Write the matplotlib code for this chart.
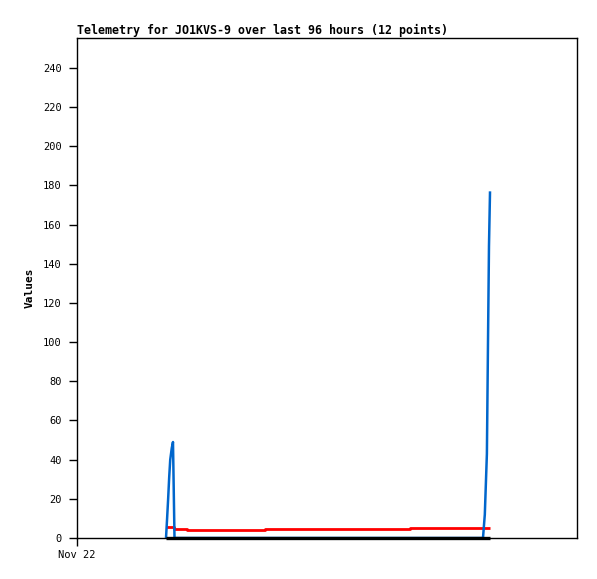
import matplotlib
matplotlib.use("Agg")
import matplotlib.pyplot as plt

# hours since Nov 22 00:00, over a 96 hour window
blue_hours = [17.09, 17.3, 17.5, 17.7, 17.9, 18.2, 18.43, 18.72, 77.95, 78.3, 78.7, 78.9, 79.1, 79.3]
blue_vals = [0, 10, 20, 31, 40, 46, 49, 0, 0, 12, 43, 97, 149, 177]

red_hours = [17.09, 18.6, 21.1, 36.1, 63.9, 79.3]
red_vals = [5.8, 4.8, 3.9, 4.4, 5.0, 5.0]

black_hours = [17.09, 79.3]
black_vals = [0, 0]

y_ticks = list(range(0, 241, 20))
x_tick_labels = ["Nov 22"]


def main():
    plt.rcParams["font.family"] = "DejaVu Sans Mono"
    fig = plt.figure(figsize=(5.97, 5.79), dpi=100)
    ax = fig.add_axes([77 / 597, 1 - 538 / 579, 500 / 597, 500 / 579])

    ax.plot(black_hours, black_vals, color="black", linewidth=2.4, solid_capstyle="butt",
            clip_on=False, zorder=3)
    ax.plot(red_hours, red_vals, color="#ff0000", linewidth=2.0, drawstyle="steps-post",
            solid_capstyle="butt")
    ax.plot(blue_hours, blue_vals, color="#0066cc", linewidth=1.8, solid_capstyle="butt")

    ax.set_xlim(0, 96)
    ax.set_ylim(0, 255.3)
    ax.set_yticks(y_ticks)
    ax.set_xticks([0])
    ax.set_xticklabels(x_tick_labels)
    ax.tick_params(axis="both", direction="out", length=6, width=1, labelsize=7.5, pad=3)
    ax.tick_params(axis="y", pad=5)

    for s in ax.spines.values():
        s.set_linewidth(1)

    ax.set_ylabel("Values", fontsize=8, fontweight="bold", labelpad=6)
    ax.set_title("Telemetry for JO1KVS-9 over last 96 hours (12 points)",
                 fontsize=8.4, fontweight="bold", loc="left", pad=3)

    fig.savefig("out.png", dpi=100)


if __name__ == "__main__":
    main()
